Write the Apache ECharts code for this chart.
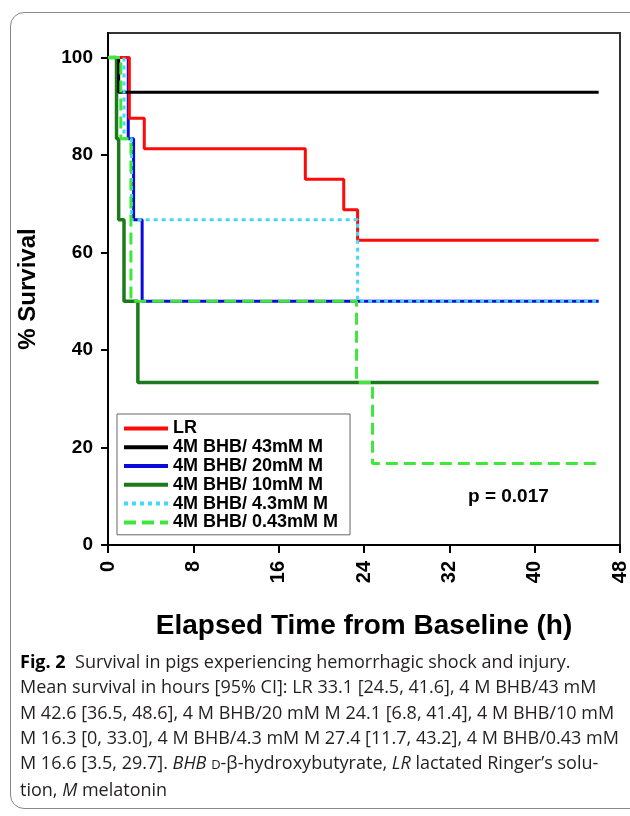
<!DOCTYPE html>
<html>
<head>
<meta charset="utf-8">
<script src="https://cdn.jsdelivr.net/npm/echarts@6/dist/echarts.min.js"></script>
<style>
html, body { margin: 0; padding: 0; background: #fff; }
#frame { position: absolute; left: 10px; top: 12px; width: 640px; height: 795px; border: 1px solid #888; border-radius: 14px; }
#chart { position: absolute; left: 0; top: 0; width: 630px; height: 816px; }
#caption { position: absolute; left: 20px; top: 649px; font-family: 'Liberation Sans Narrow', 'Open Sans', sans-serif; font-size: 18px; line-height: 25.3px; color: #231f20; white-space: pre; }
#caption b { color: #000; }
.sc { font-size: 13px; }
</style>
</head>
<body>
<div id="frame"></div>
<div id="chart"></div>
<div id="caption"><b>Fig. 2</b>  Survival in pigs experiencing hemorrhagic shock and injury.
Mean survival in hours [95% CI]: LR 33.1 [24.5, 41.6], 4 M BHB/43 mM
M 42.6 [36.5, 48.6], 4 M BHB/20 mM M 24.1 [6.8, 41.4], 4 M BHB/10 mM
M 16.3 [0, 33.0], 4 M BHB/4.3 mM M 27.4 [11.7, 43.2], 4 M BHB/0.43 mM
M 16.6 [3.5, 29.7]. <i>BHB</i> <span class="sc">D</span>-β-hydroxybutyrate, <i>LR</i> lactated Ringer’s solu-
tion, <i>M</i> melatonin</div>
<script>
// axis ticks
const xTicks = [0, 8, 16, 24, 32, 40, 48]
const yTicks = [0, 20, 40, 60, 80, 100]

// Kaplan-Meier steps: time (h) and % survival
const lrTime = [0, 2.0, 3.4, 18.5, 22.1, 23.4, 46]
const lrSurv = [100, 87.5, 81.25, 75, 68.75, 62.5, 62.5]
const m43Time = [0, 1.0, 46]
const m43Surv = [100, 92.86, 92.86]
const m20Time = [0, 1.9, 2.4, 3.2, 46]
const m20Surv = [100, 83.3, 66.7, 50, 50]
const m10Time = [0, 0.8, 1.0, 1.5, 2.8, 46]
const m10Surv = [100, 83.3, 66.7, 50, 33.3, 33.3]
const m4Time = [0, 1.5, 2.2, 23.4, 46]
const m4Surv = [100, 83.3, 66.7, 50, 50]
const m04Time = [0, 1.2, 2.15, 23.3, 24.8, 46]
const m04Surv = [100, 83.3, 50, 33.3, 16.7, 16.7]

const names = ['LR', '4M BHB/ 43mM M', '4M BHB/ 20mM M', '4M BHB/ 10mM M', '4M BHB/ 4.3mM M', '4M BHB/ 0.43mM M']
const font = "'Liberation Sans', Arial, sans-serif"

function pairs(t, s) {
  return t.map((v, i) => [v, s[i]])
}

function km(name, t, s, color, type, width) {
  return {
    name: name,
    type: 'line',
    step: 'end',
    symbol: 'none',
    color: color,
    lineStyle: { color: color, width: width || 3, type: type || 'solid' },
    data: pairs(t, s)
  }
}

const chart = echarts.init(document.getElementById('chart'))
const option = {
  animation: false,
  textStyle: { fontFamily: font },
  grid: {
    left: 108, right: 10, top: 33, bottom: 271,
    show: true, borderColor: '#333', borderWidth: 2,
    containLabel: false, outerBoundsMode: 'none'
  },
  xAxis: {
    type: 'value',
    min: 0,
    max: 48,
    interval: 8,
    name: 'Elapsed Time from Baseline (h)',
    nameLocation: 'middle',
    nameGap: 67,
    nameTextStyle: { fontSize: 28, fontWeight: 'bold', color: '#000', fontFamily: font },
    axisLine: { show: true, lineStyle: { color: '#000', width: 2 } },
    axisTick: { show: true, length: 8, lineStyle: { color: '#000', width: 2 } },
    axisLabel: { rotate: 90, margin: 16, fontSize: 20, fontWeight: 'bold', color: '#000', fontFamily: font, customValues: xTicks },
    splitLine: { show: false }
  },
  yAxis: {
    type: 'value',
    min: 0,
    max: 105,
    name: '% Survival',
    nameLocation: 'middle',
    nameRotate: 90,
    nameGap: 68,
    nameTextStyle: { fontSize: 24, fontWeight: 'bold', color: '#000', fontFamily: font },
    axisLine: { show: true, lineStyle: { color: '#000', width: 2 } },
    axisTick: { show: true, length: 7, lineStyle: { color: '#000', width: 2 }, customValues: yTicks },
    axisLabel: { margin: 15, fontSize: 19, fontWeight: 'bold', color: '#000', fontFamily: font, customValues: yTicks },
    splitLine: { show: false }
  },
  legend: {
    orient: 'vertical',
    left: 117,
    top: 414,
    itemWidth: 44,
    itemHeight: 12,
    itemGap: 0,
    borderColor: '#666',
    borderWidth: 1,
    padding: [5, 12, 3, 5],
    itemStyle: { opacity: 0 },
    lineStyle: { width: 4 },
    textStyle: { fontSize: 18, lineHeight: 18.8, fontWeight: 'bold', color: '#000', fontFamily: font },
    data: names
  },
  graphic: [{
    type: 'text',
    left: 468,
    top: 487,
    style: { text: 'p = 0.017', fontSize: 19, fontWeight: 'bold', fill: '#000', fontFamily: font }
  }],
  series: [
    km(names[2], m20Time, m20Surv, '#0a0adc'),
    km(names[3], m10Time, m10Surv, '#1b7a1b', 'solid', 3.5),
    km(names[0], lrTime, lrSurv, '#ff0a0a'),
    km(names[1], m43Time, m43Surv, '#000000'),
    km(names[4], m4Time, m4Surv, '#44d8ff', [4, 4]),
    km(names[5], m04Time, m04Surv, '#3ee83a', [12, 6])
  ]
}
chart.setOption(option)
</script>
</body>
</html>
